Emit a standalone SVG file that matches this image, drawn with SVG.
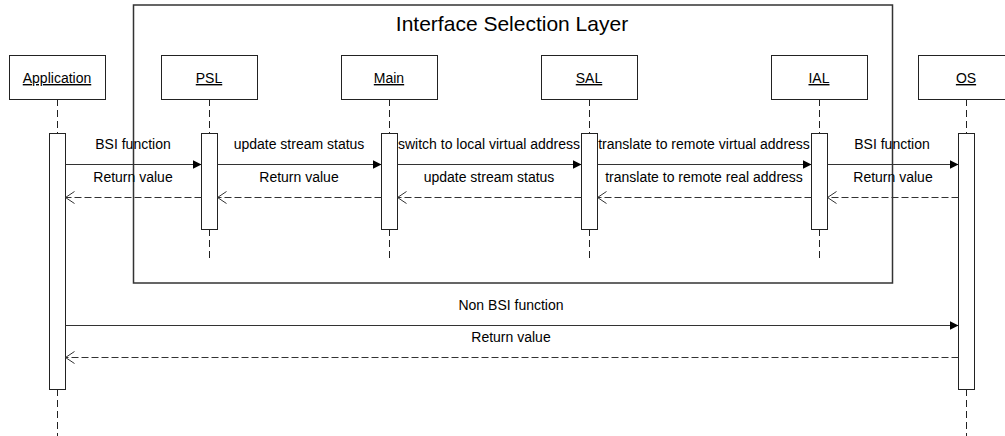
<svg xmlns="http://www.w3.org/2000/svg" width="1005" height="436" viewBox="0 0 1005 436">
<style>
text{font-family:"Liberation Sans",Arial,sans-serif;font-size:14px;fill:#000}
.lbl{text-anchor:middle}
.name{text-anchor:middle;text-decoration:underline}
.box{fill:#fff;stroke:#222;stroke-width:1}
.act{fill:#fff;stroke:#222;stroke-width:1}
.life{stroke:#222;stroke-width:1;stroke-dasharray:7,4;fill:none}
.call{stroke:#333;stroke-width:1;fill:none;marker-end:url(#filled)}
.ret{stroke:#333;stroke-width:1;fill:none;stroke-dasharray:7,3;marker-end:url(#open)}
.frame{fill:none;stroke:#333;stroke-width:1.5}
</style>
<defs>
<marker id="filled" markerUnits="userSpaceOnUse" markerWidth="10" markerHeight="10" refX="9" refY="4.5" orient="auto">
<path d="M0,0 L9,4.5 L0,9 z" fill="#000"/>
</marker>
<marker id="open" markerUnits="userSpaceOnUse" markerWidth="11" markerHeight="14" refX="9.5" refY="6.5" orient="auto">
<path d="M0.5,0.5 L9.5,6.5 L0.5,12.5" fill="none" stroke="#333" stroke-width="1"/>
</marker>
</defs>
<rect width="1005" height="436" fill="#fff"/>

<g id="frame">
<rect class="frame" x="133.5" y="5" width="759" height="278"/>
<text x="512" y="31" style="font-size:21px;text-anchor:middle">Interface Selection Layer</text>
</g>

<g id="lifelines">
<line class="life" x1="57.5" y1="99" x2="57.5" y2="133"/>
<line class="life" x1="57.5" y1="389" x2="57.5" y2="436"/>
<line class="life" x1="209.5" y1="99" x2="209.5" y2="133"/>
<line class="life" x1="209.5" y1="229" x2="209.5" y2="260"/>
<line class="life" x1="389.5" y1="99" x2="389.5" y2="133"/>
<line class="life" x1="389.5" y1="229" x2="389.5" y2="260"/>
<line class="life" x1="589.5" y1="99" x2="589.5" y2="133"/>
<line class="life" x1="589.5" y1="229" x2="589.5" y2="260"/>
<line class="life" x1="819.5" y1="99" x2="819.5" y2="133"/>
<line class="life" x1="819.5" y1="229" x2="819.5" y2="260"/>
<line class="life" x1="966.5" y1="99" x2="966.5" y2="133"/>
<line class="life" x1="966.5" y1="389" x2="966.5" y2="436"/>
</g>

<g id="node-application">
<rect class="box" x="9.5" y="55.5" width="96" height="44"/>
<text class="name" x="57" y="83">Application</text>
<rect class="act" x="49.5" y="133.5" width="16" height="256"/>
</g>
<g id="node-psl">
<rect class="box" x="161.5" y="55.5" width="96" height="44"/>
<text class="name" x="209" y="83">PSL</text>
<rect class="act" x="201.5" y="133.5" width="16" height="96"/>
</g>
<g id="node-main">
<rect class="box" x="341.5" y="55.5" width="96" height="44"/>
<text class="name" x="389" y="83">Main</text>
<rect class="act" x="381.5" y="133.5" width="16" height="96"/>
</g>
<g id="node-sal">
<rect class="box" x="541.5" y="55.5" width="96" height="44"/>
<text class="name" x="589" y="83">SAL</text>
<rect class="act" x="581.5" y="133.5" width="16" height="96"/>
</g>
<g id="node-ial">
<rect class="box" x="771.5" y="55.5" width="96" height="44"/>
<text class="name" x="819" y="83">IAL</text>
<rect class="act" x="811.5" y="133.5" width="16" height="96"/>
</g>
<g id="node-os">
<rect class="box" x="918.5" y="55.5" width="96" height="44"/>
<text class="name" x="966" y="83">OS</text>
<rect class="act" x="958.5" y="133.5" width="16" height="256"/>
</g>

<g id="connectors">
<line class="call" x1="65.5" y1="164.5" x2="201.5" y2="164.5"/>
<line class="call" x1="217.5" y1="164.5" x2="381.5" y2="164.5"/>
<line class="call" x1="397.5" y1="164.5" x2="581.5" y2="164.5"/>
<line class="call" x1="597.5" y1="164.5" x2="811.5" y2="164.5"/>
<line class="call" x1="827.5" y1="164.5" x2="958.5" y2="164.5"/>
<line class="ret" x1="201.5" y1="197.5" x2="65.5" y2="197.5"/>
<line class="ret" x1="381.5" y1="197.5" x2="217.5" y2="197.5"/>
<line class="ret" x1="581.5" y1="197.5" x2="397.5" y2="197.5"/>
<line class="ret" x1="811.5" y1="197.5" x2="597.5" y2="197.5"/>
<line class="ret" x1="958.5" y1="197.5" x2="827.5" y2="197.5"/>
<line class="call" x1="65.5" y1="325.5" x2="958.5" y2="325.5"/>
<line class="ret" x1="958.5" y1="357.5" x2="65.5" y2="357.5"/>
<text class="lbl" x="133" y="149">BSI function</text>
<text class="lbl" x="299" y="149">update stream status</text>
<text class="lbl" x="489" y="149">switch to local virtual address</text>
<text class="lbl" x="704" y="149">translate to remote virtual address</text>
<text class="lbl" x="892" y="149">BSI function</text>
<text class="lbl" x="133" y="182">Return value</text>
<text class="lbl" x="299" y="182">Return value</text>
<text class="lbl" x="489" y="182">update stream status</text>
<text class="lbl" x="704" y="182">translate to remote real address</text>
<text class="lbl" x="893" y="182">Return value</text>
<text class="lbl" x="511" y="310">Non BSI function</text>
<text class="lbl" x="511" y="342">Return value</text>
</g>
</svg>
